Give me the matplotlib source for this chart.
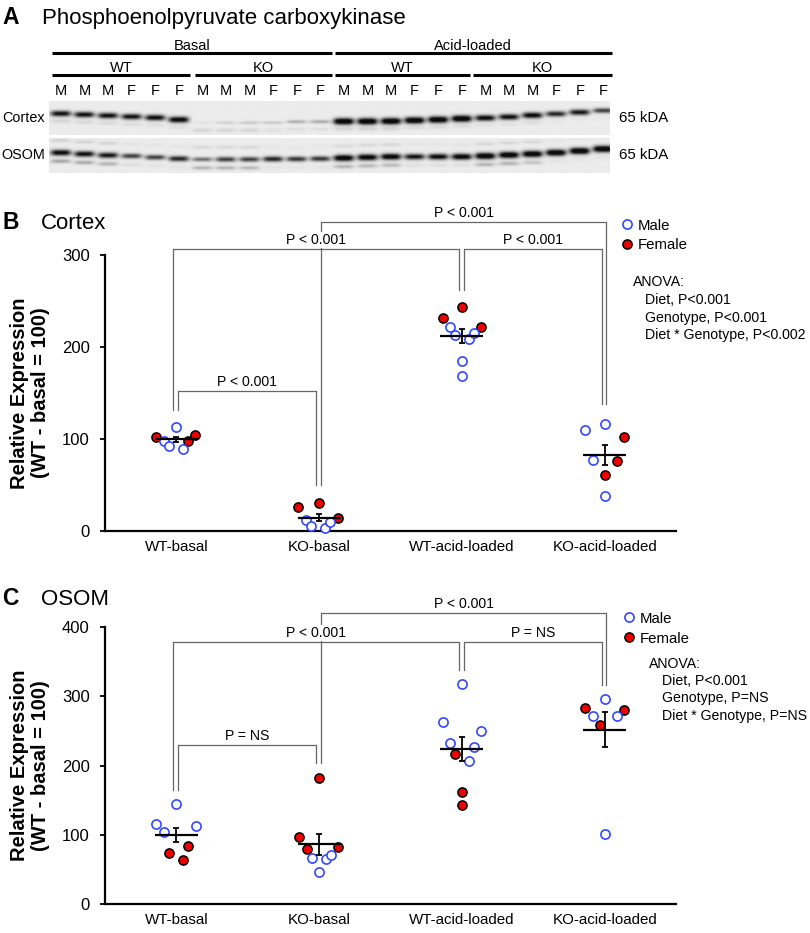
import numpy as np
import matplotlib
matplotlib.use('Agg')
import matplotlib.pyplot as plt

plt.rcParams['font.family'] = ['Liberation Sans', 'DejaVu Sans']

# ---------------- data ----------------
groups = ['WT-basal', 'KO-basal', 'WT-acid-loaded', 'KO-acid-loaded']

# Panel B: Cortex
cortex_vals = [
    [102.5, 113.4, 98.0, 92.7, 97.5, 104.0, 88.8],
    [25.8, 30.8, 14.5, 12.0, 5.8, 2.9, 10.1],
    [243.0, 231.0, 222.0, 221.4, 212.7, 208.3, 215.6, 184.8, 168.5],
    [109.8, 116.0, 101.8, 77.2, 76.0, 61.2, 38.0],
]
cortex_sex = [
    ['F', 'M', 'M', 'M', 'F', 'F', 'M'],
    ['F', 'F', 'F', 'M', 'M', 'M', 'M'],
    ['F', 'F', 'F', 'M', 'M', 'M', 'M', 'M', 'M'],
    ['M', 'M', 'F', 'M', 'F', 'F', 'M'],
]
cortex_jitter = [
    [-0.14, 0.0, -0.09, -0.05, 0.08, 0.13, 0.045],
    [-0.145, 0.0, 0.13, -0.095, -0.06, 0.04, 0.077],
    [0.0, -0.135, 0.135, -0.084, -0.05, 0.05, 0.084, 0.0, 0.0],
    [-0.135, 0.0, 0.138, -0.084, 0.084, 0.0, 0.0],
]
# (group a, group b, top, leg a bottom, leg b bottom, label)
cortex_brackets = [
    (0, 1, 152.5, 131, 50, 'P < 0.001'),
    (0, 2, 306.5, 131, 262, 'P < 0.001'),
    (1, 3, 335.5, 50, 138, 'P < 0.001'),
    (2, 3, 306.0, 262, 138, 'P < 0.001'),
]
cortex_anova = ['ANOVA:', 'Diet, P<0.001', 'Genotype, P<0.001',
                'Diet * Genotype, P<0.002']

# Panel C: OSOM
osom_vals = [
    [144.0, 115.3, 104.6, 113.3, 84.4, 73.9, 63.4],
    [181.5, 96.5, 79.7, 82.6, 67.2, 64.8, 71.0, 47.0],
    [317.0, 263.0, 249.3, 232.0, 227.0, 206.5, 216.0, 161.4, 142.6],
    [295.8, 283.3, 280.0, 271.8, 270.9, 258.0, 101.7],
]
osom_sex = [
    ['M', 'M', 'M', 'M', 'F', 'F', 'F'],
    ['F', 'F', 'F', 'F', 'M', 'M', 'M', 'M'],
    ['M', 'M', 'M', 'M', 'M', 'M', 'F', 'F', 'F'],
    ['M', 'F', 'F', 'M', 'M', 'F', 'M'],
]
osom_jitter = [
    [0.0, -0.14, -0.087, 0.135, 0.084, -0.052, 0.047],
    [0.0, -0.14, -0.086, 0.135, -0.05, 0.05, 0.084, 0.0],
    [0.0, -0.135, 0.135, -0.084, 0.084, 0.05, -0.05, 0.0, 0.0],
    [0.0, -0.135, 0.138, -0.084, 0.084, -0.03, 0.0],
]
osom_brackets = [
    (0, 1, 229.0, 164.7, 203, 'P = NS'),
    (0, 2, 378.0, 164.7, 337.6, 'P < 0.001'),
    (1, 3, 419.3, 203, 316, 'P < 0.001'),
    (2, 3, 378.0, 337.6, 316, 'P = NS'),
]
osom_anova = ['ANOVA:', 'Diet, P<0.001', 'Genotype, P=NS',
              'Diet * Genotype, P=NS']

# Panel A: western blot (band darkness per lane, 0..1)
lane_sex = ['M', 'M', 'M', 'F', 'F', 'F'] * 4
blot_groups_top = ['Basal', 'Acid-loaded']
blot_groups_mid = ['WT', 'KO', 'WT', 'KO']
cortex_band = [0.80, 0.80, 0.80, 0.80, 0.82, 0.88,
               0.04, 0.10, 0.13, 0.13, 0.22, 0.24,
               1.00, 1.00, 1.00, 1.00, 1.00, 1.00,
               0.85, 0.82, 0.85, 0.72, 0.78, 0.62]
cortex_band_row = [114, 115, 116, 117, 118, 120,
                   123, 123, 123, 123, 122, 122,
                   121.7, 121.7, 121.5, 120.7, 120, 119,
                   118.3, 117.3, 115.7, 114.3, 112.7, 111]
cortex_lower = [0.09, 0.08, 0.08, 0.06, 0.05, 0.05,
                0.09, 0.09, 0.09, 0.05, 0.05, 0.05,
                0.09, 0.09, 0.09, 0.06, 0.06, 0.06,
                0.04, 0.04, 0.06, 0.02, 0.02, 0.02]
osom_band = [0.85, 0.82, 0.78, 0.62, 0.62, 0.72,
             0.45, 0.62, 0.62, 0.72, 0.66, 0.66,
             0.95, 0.92, 0.92, 0.80, 0.85, 0.90,
             0.98, 0.98, 0.98, 0.98, 1.00, 1.00]
osom_band_row = [152.7, 154, 155.3, 156, 157.3, 158.7,
                 159.3, 159.3, 159.3, 159, 159, 158.7,
                 158, 157.3, 156.7, 156.7, 156.7, 156.7,
                 156, 155, 154, 152.7, 151, 149]
osom_lower = [0.28, 0.26, 0.22, 0.06, 0.04, 0.04,
              0.22, 0.22, 0.20, 0.04, 0.03, 0.03,
              0.22, 0.20, 0.20, 0.05, 0.05, 0.05,
              0.22, 0.22, 0.16, 0.03, 0.03, 0.03]
osom_upper = [0.10, 0.10, 0.09, 0.04, 0.03, 0.03,
              0.08, 0.08, 0.08, 0.02, 0.02, 0.02,
              0.08, 0.08, 0.08, 0.03, 0.03, 0.03,
              0.08, 0.08, 0.08, 0.02, 0.02, 0.02]

# ---------------- styles ----------------
BLUE = '#3347ff'
RED = '#ee0000'
BRACKET = '#666666'

W, H = 810, 933
fig = plt.figure(figsize=(W / 100, H / 100), dpi=100)


def px_axes(x0, y0, x1, y1):
    return [x0 / W, 1 - y1 / H, (x1 - x0) / W, (y1 - y0) / H]


def draw_panel(ax, vals, sexes, jitter, brackets, ymax):
    ax.set_facecolor('none')
    ax.set_xlim(0.5, 4.5)
    ax.set_ylim(0, ymax)
    for s in ['top', 'right']:
        ax.spines[s].set_visible(False)
    for s in ['left', 'bottom']:
        ax.spines[s].set_linewidth(1.6)
    ax.set_yticks(np.arange(0, ymax + 1, 100))
    ax.tick_params(axis='y', direction='out', length=3.6, width=1.3,
                   labelsize=12, pad=7.5)
    ax.set_xticks(range(1, 5))
    ax.set_xticklabels(groups)
    ax.tick_params(axis='x', length=0, labelsize=10.9, pad=6.5)
    for gi in range(4):
        x0 = gi + 1
        v = np.array(vals[gi])
        sx = np.array(sexes[gi])
        dx = np.array(jitter[gi])
        f = sx == 'F'
        m = sx == 'M'
        ax.plot(x0 + dx[f], v[f], 'o', ms=6.6, mfc=RED, mec='black', mew=1.1,
                zorder=4, clip_on=False)
        ax.plot(x0 + dx[m], v[m], 'o', ms=6.6, mfc='white', mec=BLUE, mew=1.2,
                zorder=5, clip_on=False)
        mean = v.mean()
        sem = v.std(ddof=1) / np.sqrt(len(v))
        ax.hlines(mean, x0 - 0.15, x0 + 0.15, color='black', lw=1.6, zorder=6)
        ax.errorbar(x0, mean, yerr=sem, fmt='none', ecolor='black',
                    elinewidth=1.3, capsize=2.0, capthick=1.3, zorder=6)
    leg_dx = {(0, 1): (0.013, -0.022), (0, 2): (-0.022, -0.018),
              (1, 3): (0.015, 0.01), (2, 3): (0.015, -0.02)}
    for a, b, top, ya, yb, lab in brackets:
        da, db = leg_dx[(a, b)]
        xa, xb = a + 1 + da, b + 1 + db
        ax.plot([xa, xa], [ya, top], color=BRACKET, lw=0.9, zorder=1,
                clip_on=False)
        ax.plot([xb, xb], [yb, top], color=BRACKET, lw=0.9, zorder=1,
                clip_on=False)
        ax.plot([xa, xb], [top, top], color=BRACKET, lw=0.9, zorder=3,
                clip_on=False, solid_capstyle='butt')
        ax.annotate(lab, xy=((xa + xb) / 2, top), xytext=(0, 3.6),
                    textcoords='offset points', ha='center', va='baseline',
                    fontsize=10.1, zorder=2, annotation_clip=False,
                    bbox=dict(boxstyle='square,pad=0.1', fc='white', ec='none'))
    ax.text(-0.131, 0.5, 'Relative Expression\n(WT - basal = 100)',
            transform=ax.transAxes, rotation=90, ha='center', va='center',
            fontsize=14.5, fontweight='bold', linespacing=1.1)


axB = fig.add_axes(px_axes(105, 255, 676, 531))
draw_panel(axB, cortex_vals, cortex_sex, cortex_jitter, cortex_brackets, 300)
axC = fig.add_axes(px_axes(105, 626.7, 676, 904.3))
draw_panel(axC, osom_vals, osom_sex, osom_jitter, osom_brackets, 400)

# ---------------- overlay in pixel coordinates ----------------
ov = fig.add_axes([0, 0, 1, 1], facecolor='none')
ov.set_xlim(0, W)
ov.set_ylim(H, 0)
ov.axis('off')

# Panel A titles
ov.text(2, 24, 'A', fontsize=16.5, fontweight='bold', va='baseline')
ov.text(42, 24, 'Phosphoenolpyruvate carboxykinase', fontsize=16,
        va='baseline')

# blot header lines and labels
top_segs = [(51.7, 331.7), (335, 611.7)]
mid_segs = [(51.7, 190), (195, 331.7), (335, 470), (473.3, 611.7)]
for (x0, x1), lab in zip(top_segs, blot_groups_top):
    ov.plot([x0, x1], [53.3, 53.3], color='black', lw=2.2,
            solid_capstyle='butt')
    ov.text((x0 + x1) / 2, 50.5, lab, ha='center', va='baseline', fontsize=10.5)
for (x0, x1), lab in zip(mid_segs, blot_groups_mid):
    ov.plot([x0, x1], [75, 75], color='black', lw=2.2, solid_capstyle='butt')
    ov.text((x0 + x1) / 2, 71.7, lab, ha='center', va='baseline', fontsize=10.5)

LANE_X0, LANE_DX = 61.0, 23.58
for i, s in enumerate(lane_sex):
    ov.text(LANE_X0 + LANE_DX * i, 95, s, ha='center', va='baseline',
            fontsize=10.5)

BX0, BX1 = 49.3, 610.0


def blot_strip(y0, y1, main, rows, lower, lower_off, upper=None, upper_off=0):
    xs = np.linspace(BX0, BX1, int((BX1 - BX0) * 3))
    ys = np.linspace(y0, y1, int((y1 - y0) * 3))
    X, Y = np.meshgrid(xs, ys)
    dark = np.full(X.shape, 0.075)
    for i in range(len(main)):
        cx = LANE_X0 + LANE_DX * i
        hp = np.exp(-((X - cx) / 10.2) ** 4)
        I = main[i]
        sig = 0.9 + 1.4 * I
        dark += 1.1 * I * hp * np.exp(-0.5 * ((Y - rows[i]) / sig) ** 2)
        dark += lower[i] * hp * np.exp(-0.5 * ((Y - rows[i] - lower_off) / 1.4) ** 2)
        if upper is not None:
            dark += upper[i] * hp * np.exp(-0.5 * ((Y - rows[i] + upper_off) / 1.3) ** 2)
    img = 1 - np.clip(dark, 0, 0.95)
    ov.imshow(img, cmap='gray', vmin=0, vmax=1, extent=[BX0, BX1, y1, y0],
              aspect='auto', interpolation='bilinear', zorder=1)


blot_strip(101.7, 135.0, cortex_band, cortex_band_row, cortex_lower, 7.5)
blot_strip(138.3, 172.7, osom_band, osom_band_row, osom_lower, 8.5,
           osom_upper, 12.0)
ov.set_xlim(0, W)
ov.set_ylim(H, 0)

ov.text(45, 118, 'Cortex', ha='right', va='center', fontsize=10.4)
ov.text(45, 155, 'OSOM', ha='right', va='center', fontsize=10.4)
ov.text(619.3, 118, '65 kDA', ha='left', va='center', fontsize=10.8)
ov.text(619.3, 155, '65 kDA', ha='left', va='center', fontsize=10.8)

# Panel B/C titles
ov.text(2, 229, 'B', fontsize=16.5, fontweight='bold', va='baseline')
ov.text(41, 229, 'Cortex', fontsize=16, va='baseline')
ov.text(2, 605, 'C', fontsize=16.5, fontweight='bold', va='baseline')
ov.text(41, 605, 'OSOM', fontsize=16, va='baseline')


def legend_block(mx, my_male, my_female, ax0, ax1, base_ys, lines):
    ov.plot([mx], [my_male], 'o', ms=6.6, mfc='white', mec=BLUE, mew=1.2)
    ov.plot([mx], [my_female], 'o', ms=6.6, mfc=RED, mec='black', mew=1.1)
    ov.text(mx + 10.6, my_male + 5.4, 'Male', fontsize=10.8, va='baseline')
    ov.text(mx + 10.6, my_female + 5.4, 'Female', fontsize=10.8, va='baseline')
    for k, (txt, yb) in enumerate(zip(lines, base_ys)):
        ov.text(ax0 if k == 0 else ax1, yb, txt, fontsize=10.2, va='baseline')


legend_block(626.7, 224.3, 244.0, 633.3, 645.3, [286, 304, 321.7, 339],
             cortex_anova)
legend_block(628.7, 617.3, 637.3, 649.3, 661.7, [668.3, 685, 702.3, 720],
             osom_anova)

fig.savefig('out.png', dpi=100)
